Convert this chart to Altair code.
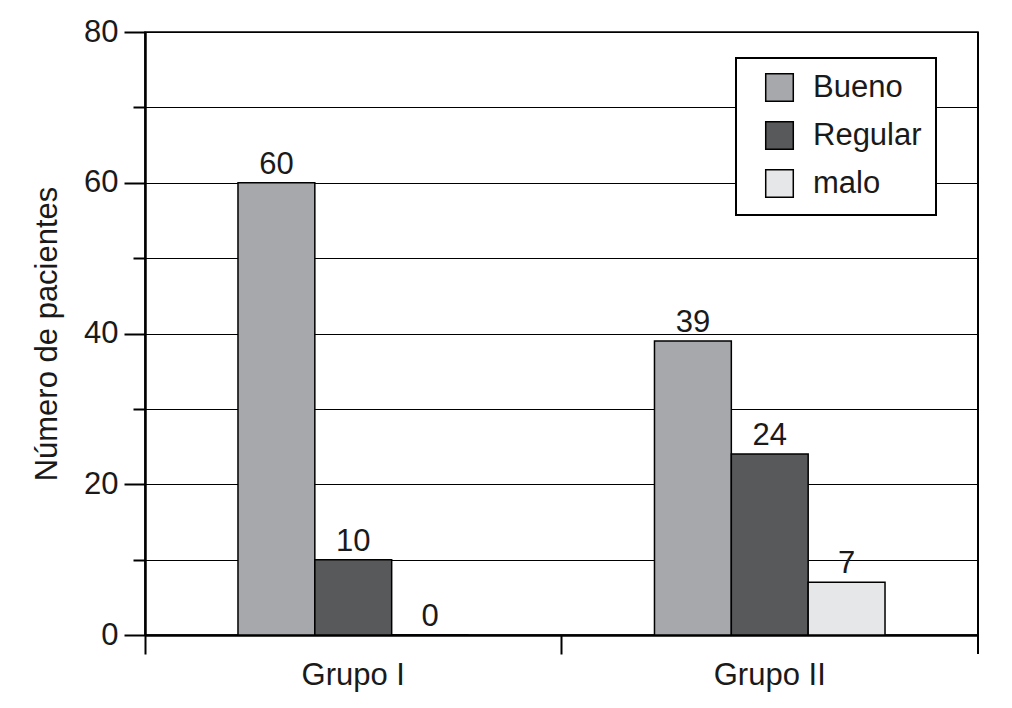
import altair as alt
import pandas as pd

groups = ["Grupo I", "Grupo II"]
series = ["Bueno", "Regular", "malo"]
bueno = [60, 39]
regular = [10, 24]
malo = [0, 7]
colors = ["#a7a8ab", "#58595b", "#e6e7e8"]

rows = []
for i, g in enumerate(groups):
    for s, vals in zip(series, [bueno, regular, malo]):
        rows.append({"grupo": g, "calidad": s, "n": vals[i]})
df = pd.DataFrame(rows)

FONT = "Liberation Sans"
FS = 31
W, H = 833, 603

x_enc = alt.X("grupo:N", sort=groups,
              scale=alt.Scale(paddingInner=0, paddingOuter=0),
              axis=alt.Axis(title=None, bandPosition=0,
                            tickSize=19, tickWidth=2, tickColor="black",
                            domainColor="black", domainWidth=2.5,
                            labelFontSize=FS, labelFont=FONT, labelColor="#1a1a1a",
                            labelPadding=6, labelAngle=0, grid=False))
# side slots keep the three bars centred in each group
off_domain = ["_l"] + series + ["_r"]
xoff = alt.XOffset("calidad:N",
                   scale=alt.Scale(domain=off_domain, paddingInner=0, paddingOuter=0.21))

y_enc = alt.Y("n:Q", scale=alt.Scale(domain=[0, 80], nice=False),
              axis=alt.Axis(title="Número de pacientes", values=list(range(0, 81, 10)),
                            labelExpr="datum.value % 20 == 0 ? datum.label : ''",
                            tickSize={"condition": {"test": "datum.value % 20 == 0", "value": 21}, "value": 12},
                            tickWidth=2, tickColor="black",
                            domainColor="black", domainWidth=2.5,
                            grid=True, gridColor="black", gridWidth=1.2,
                            labelFontSize=FS, labelFont=FONT, labelColor="#1a1a1a",
                            labelPadding=6,
                            titleFontSize=FS, titleFont=FONT, titleFontWeight="normal",
                            titleColor="#1a1a1a", titlePadding=20))

bars = alt.Chart(df).mark_bar(stroke="black", strokeWidth=1.5, opacity=1).encode(
    x=x_enc, xOffset=xoff, y=y_enc,
    color=alt.Color("calidad:N", sort=series,
                    scale=alt.Scale(domain=series, range=colors),
                    legend=alt.Legend(title=None, orient="none", legendX=591, legendY=26,
                                      fillColor="white", strokeColor="black",
                                      padding=14, symbolOffset=14,
                                      symbolType="square", symbolSize=760,
                                      symbolStrokeColor="black", symbolStrokeWidth=1.5,
                                      symbolOpacity=1,
                                      labelFontSize=FS, labelFont=FONT, labelColor="#1a1a1a",
                                      labelOffset=18, rowPadding=13)),
)

labels = alt.Chart(df).mark_text(dy=-18, fontSize=FS, font=FONT, color="#1a1a1a").encode(
    x=alt.X("grupo:N", sort=groups), xOffset=xoff,
    y=alt.Y("n:Q"), text=alt.Text("n:Q"),
)

right_rule = alt.Chart(df).mark_rule(color="black", strokeWidth=1.5).encode(
    x=alt.value(W), y=alt.value(0), y2=alt.value(H + 19)
)

chart = alt.layer(bars, labels, right_rule).properties(
    width=W, height=H,
    padding={"left": 23, "top": 8, "right": 5, "bottom": 5},
).configure_view(stroke="black", strokeWidth=1.5).configure_legend(strokeWidth=2)

chart.save("out.html", embed_options={"renderer": "svg", "actions": False})
